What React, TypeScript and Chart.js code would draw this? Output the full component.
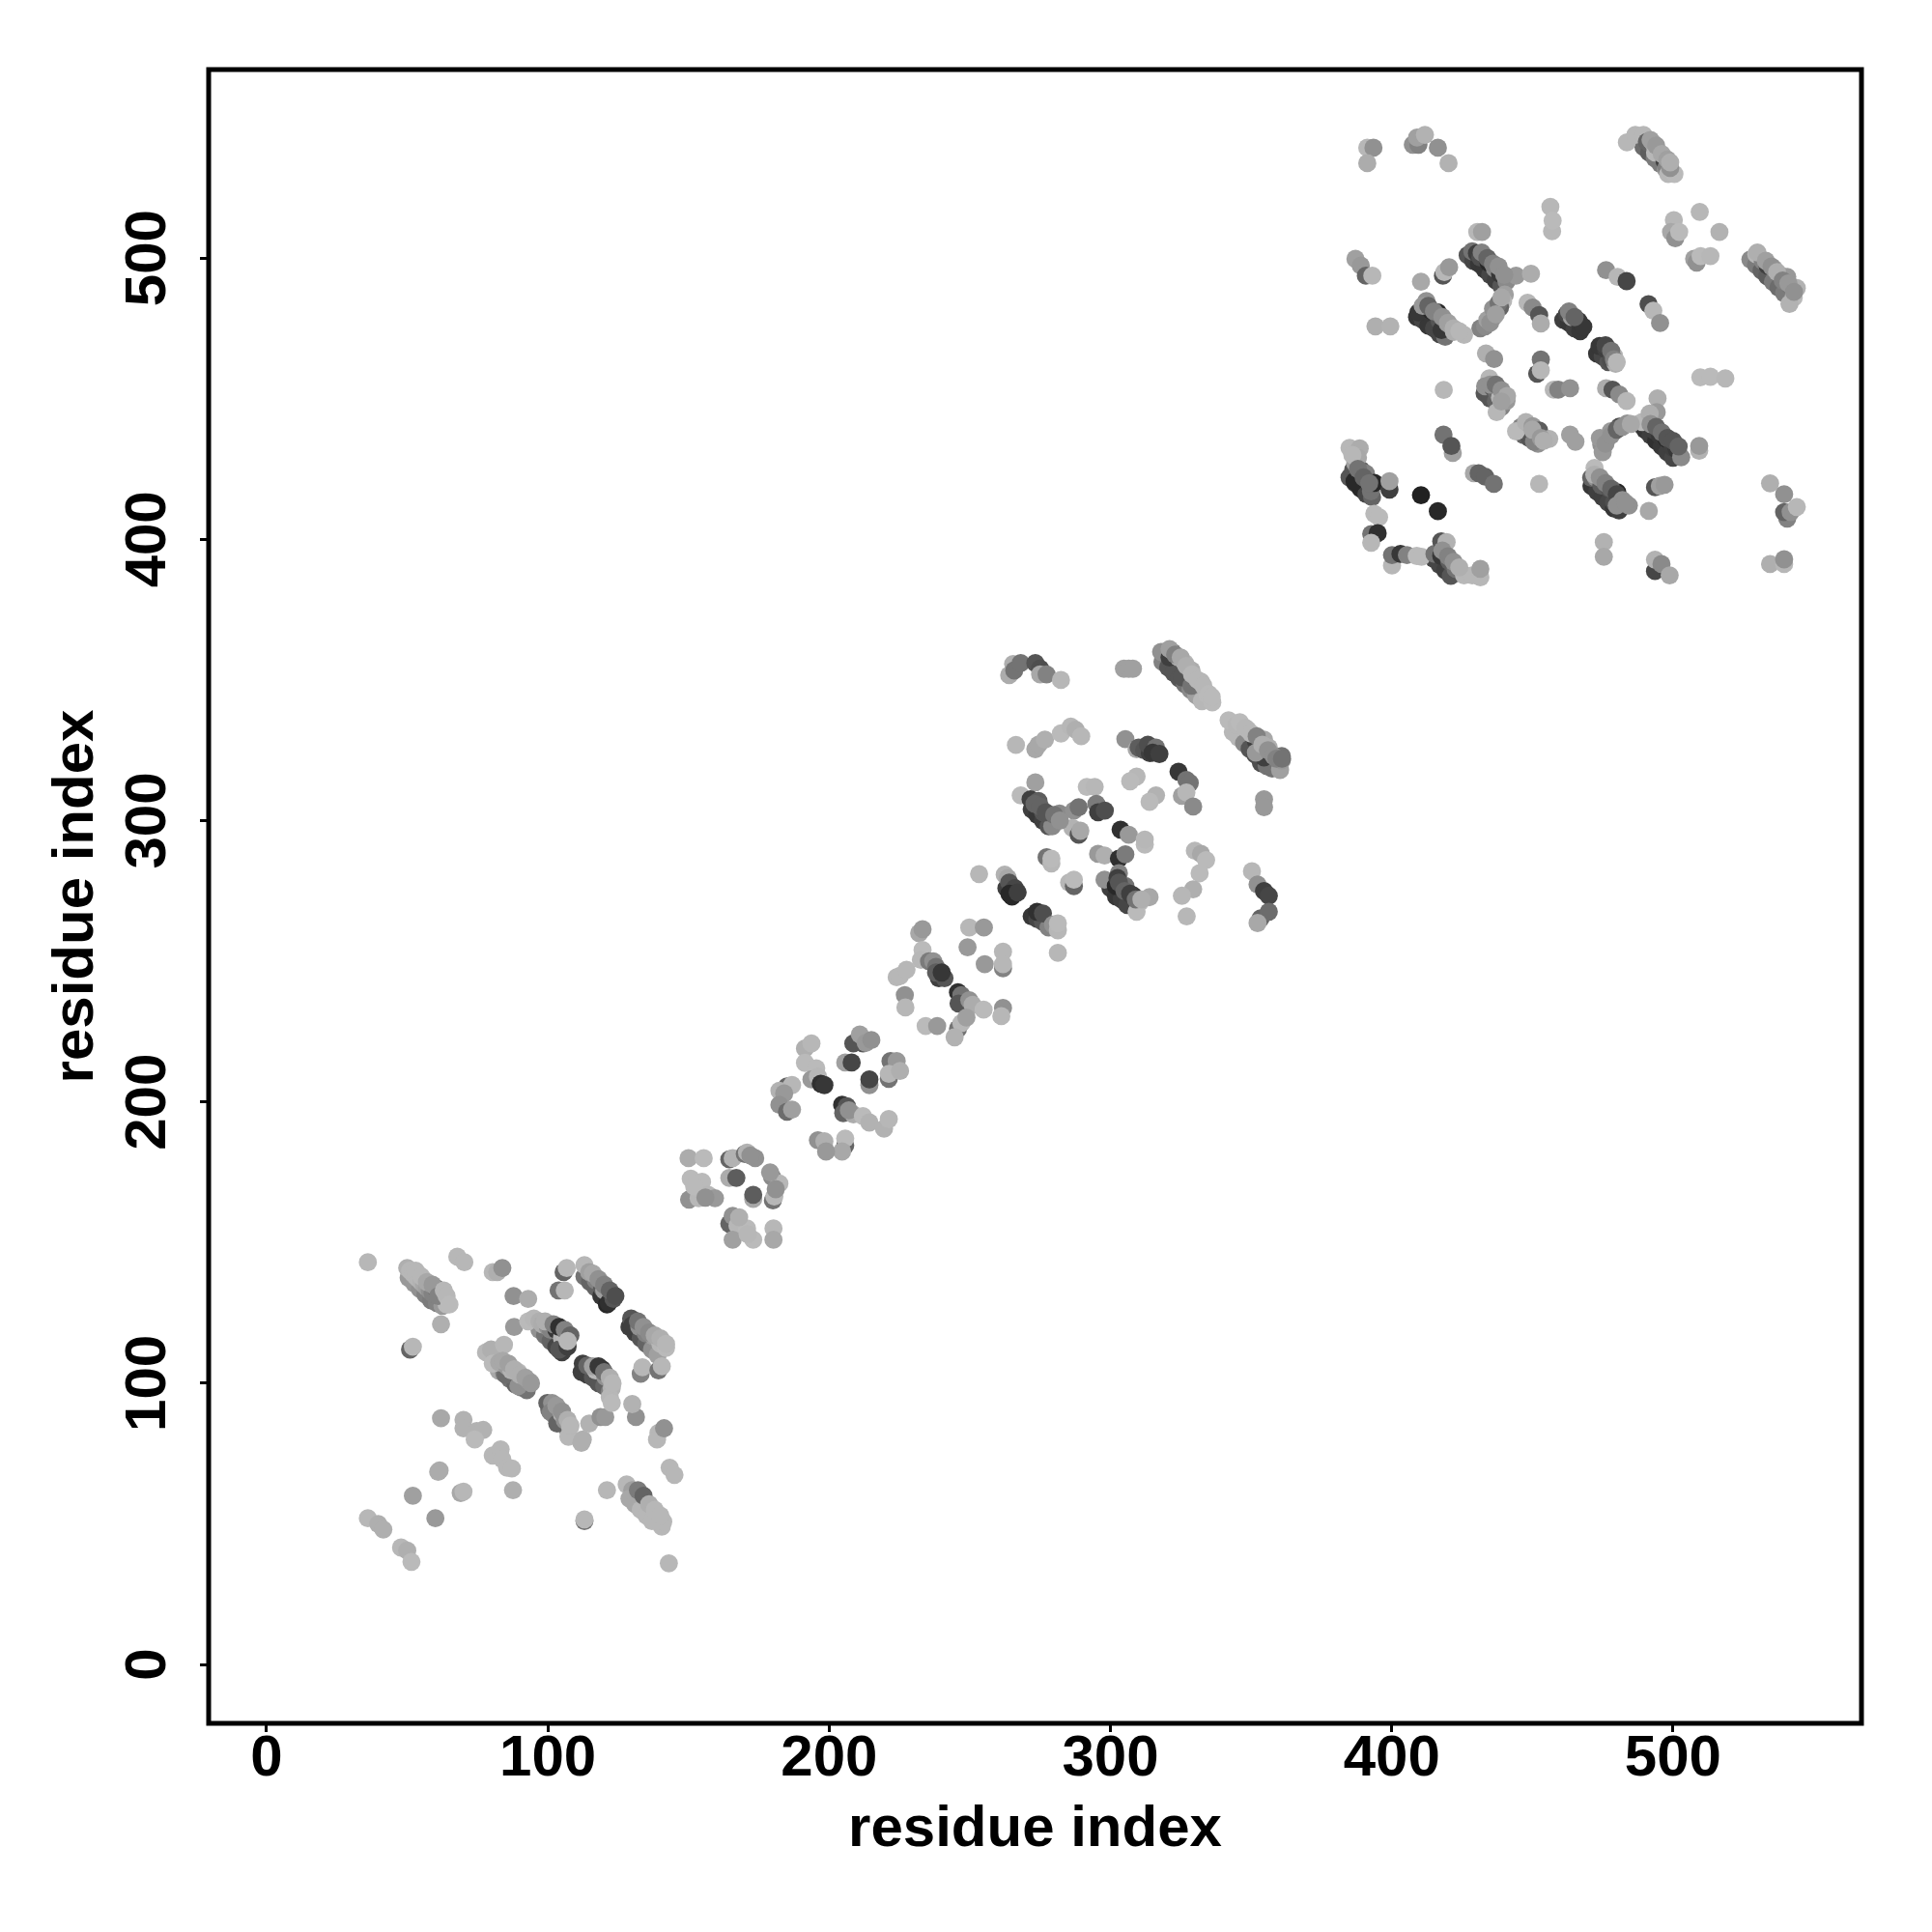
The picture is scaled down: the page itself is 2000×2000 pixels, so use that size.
import React, { useEffect, useRef } from "react";
import { Chart, registerables } from "chart.js";

Chart.register(...registerables);

type P = [number, number, number];

const axisTicks = [0, 100, 200, 300, 400, 500];
const axisTitle = "residue index";

// Every entry: [residue i, residue j, contact strength 0..105]
const domainOneLower: P[] = [
  [50.5,137.5,25],[52.5,135.5,25],[54.5,133.5,30],[56.5,131.5,40],[58.5,129.5,45],[60.5,128.5,40],[62.5,127.5,25],
  [97,119,30],[99,117,50],[101,115,60],[103,113,80],[105,111,85],
  [82.5,104.5,15],[84.5,103.5,40],[86.5,101.5,50],[88.5,99.5,60],[90.5,98.5,40],[92.5,97.5,50],
  [100.5,90.5,50],[102.5,88.5,55],[104.5,86.5,60],[106.5,84.5,40],
  [112,104,85],[114,103,85],[116,102,70],[118,100,70],[120,99,60],[122,97,40],
  [113,138,50],[115,136,60],[117,134,60],[119,131,90],[121,128,100],
  [129,120,85],[131,118,85],[133,116,70],[135,114,60],[137,112,30],[139,110,20],
];

const domainOneMain: P[] = [
  [36,143,5],[51,112,60],[52,113,5],[62,121,10],
  [50,141,10],[51,140,5],[52,139,5],[53,138,5],[54,137,5],[55,136,8],[56,135,15],[57,134,20],[58,133,30],[59,132,40],[60,134,55],[61,133,45],[62,131,30],[63,130,20],[64,128,3],
  [67.8,145,5],[70.3,143,5],[80.4,139.5,5],[82,139.5,10],[83.8,141,30],[87.8,131,30],[93,130,12],[88,120,25],[93,122,3],
  [95,123,5],[97,122,10],[98,121,12],[100,120,30],[101,119,40],[103,119,90],[105,118,50],[106,116,70],[105,116,8],[104,112,70],[107,113,85],[106,117,5],
  [78,111,5],[79.8,112,10],[84.4,113.7,5],[85,103,55],[80.4,107,3],[82.7,107.4,15],[85.5,106,25],[87,104.6,8],[89.5,104,3],[89.5,99,30],[92,101,30],[93.5,100.6,20],
  [99.8,93,60],[101.5,93,30],[101,89.7,40],[103.3,85.7,60],[105,89,8],[106,86.8,30],[107.9,84.5,5],[107.3,81,5],[111.9,78.8,10],[112.4,80,10],[114.7,85.7,8],[118.7,88,30],[120.4,88,25],
  [112.4,107,85],[114,106.3,60],[117,104.6,5],[119.3,105,95],[120.4,102.3,30],[122.7,98.3,8],[122,95,5],[122.7,93,3],[131.3,88,30],[130,92.6,8],
  [103.8,133,50],[106,133,5],[105.6,139.5,60],[106.7,141,5],[113,142,5],[114.7,139.5,20],[117,136.6,40],[119.3,133.8,65],[120,133,20],[121.6,128.6,95],[123.3,130,70],
  [129.6,123,70],[130,120.6,85],[132.5,120,30],[134.8,117.7,40],[137.6,116.6,20],[140,114,5],[142,112.6,3],
  [133,103.4,40],[133.6,105.7,5],[139.3,104.6,50],[140.5,106,5],[139.3,82.3,5],[138.8,80,5],[141.3,84,30],[143.3,70,5],[145,67.4,5],
  [121,62,5],[128,64,5],[130,62,20],[133,60.5,55],[132.5,58,25],[135.3,56,5],[137.6,52.5,5],[140.5,49,5],[141,50.8,5],[113,51,50],[113,51.6,5],[143,36,5],
  [62,87.6,15],[70,87,8],[70,84,8],[74.7,83,8],[77,83.4,8],[74,80,3],[80.4,74.3,5],[83.2,76.5,5],[83.8,73,5],[85.5,70,5],[87.2,69.7,5],[61,68.5,12],[61.5,69,12],[87.6,62,10],[69,61,15],[70,61.5,5],[52,60,20],[60,52,25],[36,52,5],[39.7,50,10],[41.5,48,10],[47.8,41.6,5],[50,40.5,10],[51.5,36.5,3],
];

const domainOneUpper: P[] = [
  [53,140,5],[55,138,5],[57,136,15],[59,135,25],[61,131,40],[63,133,5],[64,131,5],[65,128,3],
  [99,122,10],[102,121,40],[104,120,95],[106,119,40],[108,117,60],[107,115,5],
  [84,108,15],[86,107,20],[88,105,10],[90,103,10],[92,102,20],[94,100,25],
  [103,92,25],[105,90,30],[107,87,10],[108,85,5],
  [116,106,20],[118,106,90],[120,104,50],[122,102,10],[123,100,5],
  [116,139,15],[118,137,30],[120,135,40],[122,133,60],[124,131,75],
  [132,122,50],[134,120,30],[136,118,35],[138,117,15],[140,116,10],[142,114,5],
  [129,59,15],[131,57,15],[133,55,5],[135,53,5],[137,51,5],[132,62,45],[134,60,60],[136,57,10],[138,55,5],[140,53,5],
];

const domainTwo: P[] = [
  [150,180,12],[155.4,180,3],[150.8,172.7,3],[154.8,171.6,3],[150.2,165.3,30],[153.6,165.8,5],[157,167,5],[159.4,165.8,25],
  [164.5,179.6,60],[165.7,180,8],[170,181.5,50],[170.8,182,8],[173.7,180,30],[164.5,173,12],[167,173,65],[173,165.5,15],[173,167,65],
  [179.7,173.3,35],[180,165,50],[180.5,166.4,5],[182.3,171,5],[164.5,156.7,60],[165.7,159.5,30],[167.4,156,5],[170.8,155,3],[165.7,151,20],[173,151,3],[180.2,155,5],[180.2,151,15],
  [168,159,10],[171,153,5],[152,170,3],[156,166,30],[172,181,30],[181,169,30],[179,175,25],
  [191.4,219,10],[193.7,220.8,5],[191.4,213.9,3],[195.4,212,3],[193.7,208,25],[196,209,5],[197,206.5,95],[198.3,206,90],[185,205.5,60],[186.8,206,5],[182.3,204,8],[184,203,25],[182.3,199,30],[185,196.5,55],[186.8,197.3,20],
  [204.6,199,95],[206.3,198.5,70],[205,196,60],[208.6,195.6,12],[207,197,30],[212,195,3],[214.3,192.7,8],[219.5,190.5,8],[221.2,193.9,5],[205.7,184.5,60],[205.7,187,3],[204.6,182.4,15],[196,186.4,30],[198.3,186,10],[198.9,182.4,25],
  [208.6,220.8,70],[212,220.8,70],[210.9,224,20],[213,221,25],[215,222,30],[205.7,214,20],[208,214,80],[214.3,206,30],[214.3,208,80],
  [221.8,214.5,50],[224,214.5,25],[221.2,208.2,50],[221.2,210,5],[225.2,211,10],
  [232,260,15],[233.2,261.4,25],[233.2,254,3],[232.6,250.5,5],[235.5,250,45],[237,250,30],[238,248,50],[239,244,85],[238,246,65],[241,244,70],[240,246,90],[224,244.3,5],[225.2,244.8,5],[227.5,247,5],[226.9,238,30],[227.1,233.6,5],
  [245.8,239,95],[247,238,50],[246,235,70],[249.8,236.2,30],[251,234.5,12],[254.9,232.8,3],[261.8,233.4,30],[261.2,230.5,5],[234.3,227,3],[238.4,227,25],[245.8,226,50],[247,228,5],[248.8,230,20],[244.6,223,8],
  [249.8,262,5],[255,262,25],[249.2,255,25],[261.8,253.4,5],[261.8,247.5,40],[261.8,249,5],[255.3,249,25],
];

const domainThreeLower: P[] = [
  [318.5,356.5,40],[320.5,354.5,70],[322.5,352.5,70],[324.5,350.5,70],[326.5,348.5,50],[328.5,346.5,35],[330.5,344.5,20],[332.5,342.5,5],
  [343.5,331.5,5],[345.5,329.5,5],[347.5,327.5,35],[349.5,325.5,70],[351.5,323.5,75],[353.5,320.5,75],[355.5,319.5,50],[357.5,318.5,50],
  [272,304,85],[274,302,90],[276,300,85],[278,298,70],
  [300,276,85],[302,273,90],[304,272,85],[306,270,80],
  [263,276,85],[265,273,100],[272,266,90],[274,265,80],[276,264,70],[278,262,40],
];

const domainThreeMain: P[] = [
  [264,351.7,12],[265.4,355.7,10],[265.8,353.4,50],[268.1,356,50],[273.3,356,70],[275,354,75],[275,352,15],[277.3,352,40],[282.4,350,5],
  [304.8,354,20],[306.5,354,20],[308,354,20],
  [318,360,30],[322,360,50],[321,358,85],[324.2,358,10],[325.4,351,70],[326.5,356,5],[328.8,348,50],[328.8,353.4,12],[332.2,349.4,5],[334.5,344.8,3],[336.2,342,3],
  [342,335.7,3],[344.8,334,5],[348.8,332.3,3],[351.7,328.3,85],[354.6,322.5,85],[351.7,324.2,25],[354.6,328.8,15],[356.3,326,10],[360.3,318,20],[360.9,323,50],[360.9,321.4,25],
  [354.6,307.6,25],[354.6,304.8,25],
  [266.4,326.9,5],[273.3,325.4,15],[274.4,327,15],[276.7,328.8,10],[282.4,331,3],[285.9,333.4,5],[287.6,332.3,10],[289.6,330,5],
  [305.3,329,30],[309.3,325.4,15],[310,326,65],[312,325,70],[314,324,85],[313.3,327,75],[316.2,326,50],[315,324.2,90],[317.4,323.7,85],
  [309.3,315.7,5],[307,314,3],[316.2,309,8],[313.9,306.7,3],
  [324.2,317.4,90],[327,314.5,50],[328.2,313.4,50],[325.4,308.8,20],[327,310,5],[329.4,305,35],
  [268.1,309,3],[273.3,313.6,20],[271.6,307.6,85],[274.4,307,65],[276,303,70],[279.6,300.8,90],[279.3,298,35],[281.9,302.5,35],
  [287,303.6,30],[288.7,304.8,50],[291.6,312,3],[294.4,312,5],[295,306,45],[295.6,303,85],[298,303.6,75],
  [286.5,297.4,8],[288.7,295,70],[289.3,296.4,15],[303.6,296.8,95],[306.5,295,25],[312.2,291.5,3],[312.2,293.3,5],
  [295.6,288.2,25],[297.9,287.6,10],[303,286.5,95],[305.3,288,45],[303,281.3,40],
  [277.3,287,50],[279,284.8,5],[279,286.5,3],[285.3,278,5],[287,276.7,60],[287,279,3],
  [253.3,281,5],[262.4,280.8,8],[263.5,279.6,15],[264,278,70],[266,276,80],[264.1,274,100],[267,274.5,85],[273.9,267.6,95],[276,267,75],[279.6,263,30],[281.3,261,5],[281.3,263.5,3],[281.3,253,5],
  [297.9,279,30],[301.9,276.8,100],[302.5,279.6,85],[305.3,276.8,50],[308.2,273.3,90],[310.5,271,3],[313.9,272.8,15],[309.3,267.6,3],
  [330,289.3,5],[332.2,288.2,15],[334,286,3],[331.7,281.3,3],[329.4,275.6,10],[325.4,273.3,5],[327.1,266,5],
  [350.3,282,5],[352.3,277.3,30],[354.6,275,85],[356.3,273.3,80],[353.4,265.3,60],[356.3,267.6,55],[352.3,263.6,15],
];

const domainThreeUpper: P[] = [
  [321,361,20],[323,359,40],[325,358,15],[327,355,10],[329,352,5],[331,350,5],[333,348,5],[335,345,3],[336,344,3],
  [346,335,3],[348,333,5],[350,331,5],[352,330,40],[354,327,10],[356,325,30],[358,323,30],[359,322,40],[361,322,50],
  [273,306,60],[275,305,60],[277,303,70],[280,302,50],[282,300,30],
  [303,278,70],[305,275,60],[307,274,85],[309,272,50],[311,272,10],
];

const domainFourLower: P[] = [
  [427,501,70],[429,499,80],[431,498,90],[433,496,90],[435,494,80],[437,492,85],[439,490,70],
  [409,479,90],[411,478,80],[413,476,90],[415,475,80],[417,473,80],[419,472,50],
  [461,478,85],[463,477,90],[465,475,85],[467,474,90],
  [473,466,90],[475,465,80],[477,463,70],
  [488,441,75],[490,439,90],[492,437,85],[494,435,95],[496,433,90],[498,431,85],[500,429,80],
  [471,419,90],[473,417,85],[475,415,85],[477,413,80],[479,411,90],
  [385,422,70],[387,420,90],[389,418,100],[391,416,80],[393,415,60],
  [415,393,80],[417,391,80],[419,389,85],[421,387,70],
  [527.5,499.5,35],[529.5,497.5,45],[531.5,495.5,60],[533.5,493.5,65],[535.5,491.5,45],[537.5,489.5,55],[539.5,487.5,45],
  [489.5,539.5,55],[491.5,537.5,65],[493.5,535.5,45],[495.5,533.5,45],[497.5,531.5,25],
  [433,452,70],[435,450,70],[437,449,60],[439,447,40],
  [446,440,40],[447,437,60],[449,436,70],[451,435,50],[452,434,30],
];

const domainFourMain: P[] = [
  [391.3,539.2,5],[393.5,539.2,30],[391.3,533.7,12],[407.5,540.3,30],[409.5,540.3,40],[409,542.8,20],[411.8,543.8,8],[416.4,539.2,30],[420.2,533.7,8],
  [483.6,541.1,5],[486.6,543.8,5],[489.5,543.8,5],[490.7,541.3,60],[493,540.8,10],[493.6,537.5,5],[497,534.5,85],[497.7,532.2,40],[498.3,529.9,5],[500.5,529.9,3],
  [456.4,518.2,5],[457,509.5,5],[457.2,513.3,3],[509.5,516.4,5],[500.3,513.5,5],[499.3,509.3,15],[500.8,507,30],[502.2,509.3,3],[516.5,509.3,8],[507.5,499.7,20],[508.4,498.4,30],[509.8,500.7,3],[513.3,500.7,5],
  [529.6,501.3,5],[531.9,499,40],[533.6,497.3,85],[535.9,496.2,15],[538.4,493.7,40],[540.6,493.3,25],[541.4,490.4,50],[542.9,485.9,3],[544,489.3,8],[541.4,483.7,8],
  [387.1,499.7,20],[389,497.3,25],[390.8,493.7,60],[393.1,493.7,5],[410.4,491.6,15],[418.2,493.7,70],[418.7,495,5],[420.4,496.7,25],[430.4,509.3,5],[432.1,509.3,20],
  [428.6,502.4,50],[430.3,501.7,85],[431.5,500.2,75],[434.4,498.4,100],[436.7,496.2,35],[438.5,494.4,90],[440.8,491.7,35],[444.2,493.7,25],[449.5,494.4,12],[440.2,487,20],[439.6,484.7,5],[438.5,482.4,60],[436.2,479,15],[431.5,475,40],[433.2,475.7,35],
  [412.3,484.7,30],[409.5,480.7,90],[414,481.3,100],[416.4,480.7,100],[417,477.7,70],[417.7,474.4,90],[419.9,476.7,25],[422.1,473.7,10],[425.7,472.7,5],[394.2,475.7,10],[399.5,475.7,8],
  [448.3,484.1,5],[450.1,482.4,35],[452.4,479.7,70],[453,476.7,12],[462.3,480.1,80],[464,479,20],[466.4,477.7,90],[468.1,475.6,90],
  [473.9,468.7,90],[476.2,467.5,85],[477.9,463.5,75],[479,465.3,5],[479.6,462.4,10],[476.2,495.7,30],[480.3,493.3,5],[483.5,491.8,80],[491.3,483.6,75],[493,481.3,5],[495.4,476.9,30],
  [433.5,466.1,10],[436.4,464.1,30],[451.7,458.9,70],[453,463.9,50],[453,460.1,5],
  [434.7,457.2,5],[433.2,454.4,30],[436.1,453.7,70],[437.3,452.1,55],[438.5,450.4,5],[440.8,449.2,25],[437.3,445.2,5],[418.5,453.1,5],
  [457.6,453.2,5],[459.2,453.2,40],[463.4,453.7,30],[476.2,453.7,12],[478.5,453.2,70],[480.9,451.5,35],[483.5,449.2,5],[494.5,450.1,10],[494.2,445.2,25],
  [509.7,457.6,3],[513.3,457.8,3],[518.6,457.2,5],
  [444.2,438.4,3],[447.7,441.7,8],[450.1,440.2,25],[450.6,434.7,40],[452.4,438.7,65],[456,435.7,8],[463.4,437.2,20],[465.3,434.7,20],
  [418.4,437.2,50],[421.7,430.7,20],[421.2,433.2,70],[429.2,423.5,15],[430.9,423.5,60],[433.2,422.3,60],[436.3,419.7,50],[452.4,419.7,5],
  [474.5,433.7,30],[477.9,438.4,25],[480.9,440.1,75],[483.7,441.2,30],[489,441.7,5],[491.7,444.7,10],[493,438.9,85],[495.4,436.7,90],[497.7,435.7,100],[499.9,432.6,85],[501.3,432,90],[502.9,429.2,35],[509.3,431.5,8],[509.3,433.2,25],
  [385,432.5,5],[388.6,432.3,12],[386.3,424.7,70],[389.1,424.7,60],[386.8,420.7,100],[390.8,423.4,40],[392.6,417.1,50],[393.8,420.1,100],[399.2,417.7,85],[399.2,420.7,20],[410.4,415.7,105],[416.4,410,100],
  [393.8,409.1,3],[395.5,407.9,3],[392.7,401.9,50],[395,402.2,95],[392.7,398.8,5],[400.1,390.7,5],[400.1,394.4,50],[403.1,394.8,90],[405.4,394.4,40],[408.9,394.1,3],[410.6,393.8,3],
  [415.2,394.8,50],[417.6,399.3,70],[419.5,399,8],[417.6,394.1,90],[420.4,392.3,65],[422.7,389.5,50],[425.7,387.2,5],[428.6,387.2,5],[431.5,386.5,5],[431.5,389.5,20],
  [470.9,421.9,60],[472.1,425.4,3],[472.6,421.9,30],[474.5,419.1,65],[477.3,418.1,70],[480.2,416.7,100],[479,413.2,75],[480.8,410.3,85],[484.3,412,30],[491.4,410.1,15],
  [493.6,418.5,70],[495.3,419,20],[497,419.4,25],[475.4,399,8],[475.4,393.8,15],
  [493.6,388.7,80],[493.6,392.8,8],[495.9,391.2,35],[498.8,387.2,15],
  [534.5,419.9,10],[539.5,416,30],[540.6,407.4,40],[539.5,409.7,60],[541.8,409.7,30],[544,411.5,5],
  [534.5,391.2,10],[539.5,391.2,5],[539.5,392.9,30],
];

const domainFourUpper: P[] = [
  [432,502,40],[434,500,60],[436,498,40],[438,497,30],[440,494,30],
  [411,483,25],[413,483,60],[415,481,40],[418,479,30],[420,477,20],[422,475,10],[424,474,5],
  [434,478,20],[436,482,30],[438,484,50],[439,486,15],[435,477,30],[437,480,20],
  [463,481,40],[465,479,60],[476,469,80],[478,467,50],[479,464,40],[480,463,5],
  [492,441,30],[494,440,60],[496,438,50],[498,436,70],[500,435,70],[502,433,60],
  [472,423,10],[474,422,30],[476,420,40],[478,418,60],[480,416,80],[482,414,30],[480,412,30],[483,413,30],
  [387,427,20],[388,429,15],[386,430,5],[388,425,50],[390,422,60],[392,420,50],
  [418,396,30],[420,394,40],[422,392,30],[424,390,10],
  [530,502,10],[533,499,20],[535,497,30],[537,495,10],[539,492,40],[541,491,25],[543,488,30],
  [492,542,20],[494,540,25],[496,537,15],[498,535,20],[499,532,30],[499,534,10],
  [435,455,30],[437,455,50],[439,453,30],[441,451,15],[439,449,20],
  [450,439,15],[453,436,25],[454,435,10],
  [474,436,25],[475,431,25],[476,434,30],[478,437,30],[480,439,60],[482,440,30],[485,441,15],
];

const allContacts: P[] = [
  ...domainOneLower, ...domainOneMain, ...domainOneUpper,
  ...domainTwo,
  ...domainThreeLower, ...domainThreeMain, ...domainThreeUpper,
  ...domainFourLower, ...domainFourMain, ...domainFourUpper,
];

const shade = (v: number) => {
  const g = Math.round(190 - 1.5 * v);
  return `rgb(${g},${g},${g})`;
};

const frame = {
  id: "frame",
  afterDraw(chart: any) {
    const { ctx, chartArea: a } = chart;
    ctx.save();
    ctx.strokeStyle = "#000";
    ctx.lineWidth = 5;
    ctx.strokeRect(a.left, a.top, a.right - a.left, a.bottom - a.top);
    ctx.restore();
  },
};

const tickFont = { family: "'Liberation Sans'", weight: "bold" as const, size: 60 };

export default function App() {
  const ref = useRef<HTMLCanvasElement>(null);
  useEffect(() => {
    const chart = new Chart(ref.current!, {
      type: "scatter",
      data: {
        datasets: [
          {
            data: allContacts.map(([x, y]) => ({ x, y })),
            pointBackgroundColor: allContacts.map((p) => shade(p[2])),
            pointBorderWidth: 0,
            pointRadius: 9.4,
          },
        ],
      },
      plugins: [frame],
      options: {
        animation: false,
        responsive: false,
        layout: { padding: { top: 72, right: 73, left: 0, bottom: 0 } },
        plugins: { legend: { display: false }, tooltip: { enabled: false } },
        scales: {
          x: {
            type: "linear",
            min: -20.6,
            max: 567,
            afterBuildTicks(s: any) {
              s.ticks = axisTicks.map((value) => ({ value }));
            },
            afterFit(s: any) {
              s.height = 216;
            },
            border: { display: false },
            grid: { drawOnChartArea: false, tickLength: 9, tickWidth: 3, tickColor: "#000" },
            ticks: { color: "#000", font: tickFont, maxRotation: 0, padding: -8, autoSkip: false },
            title: { display: true, text: axisTitle, color: "#000", font: tickFont, padding: { top: 0, bottom: 70 } },
          },
          y: {
            type: "linear",
            min: -20.9,
            max: 567,
            afterBuildTicks(s: any) {
              s.ticks = axisTicks.map((value) => ({ value }));
            },
            afterFit(s: any) {
              s.width = 216;
            },
            border: { display: false },
            grid: { drawOnChartArea: false, tickLength: 9, tickWidth: 3, tickColor: "#000" },
            ticks: { color: "#000", font: tickFont, minRotation: 90, maxRotation: 90, padding: 2, crossAlign: "center", autoSkip: false },
            title: { display: true, text: axisTitle, color: "#000", font: tickFont, padding: { top: 43, bottom: 0 } },
          },
        },
      },
    } as any);
    return () => chart.destroy();
  }, []);
  return (
    <div style={{ position: "absolute", left: 0, top: 0, width: 2000, height: 2000, background: "#fff" }}>
      <canvas ref={ref} width={2000} height={2000} style={{ display: "block" }} />
    </div>
  );
}
